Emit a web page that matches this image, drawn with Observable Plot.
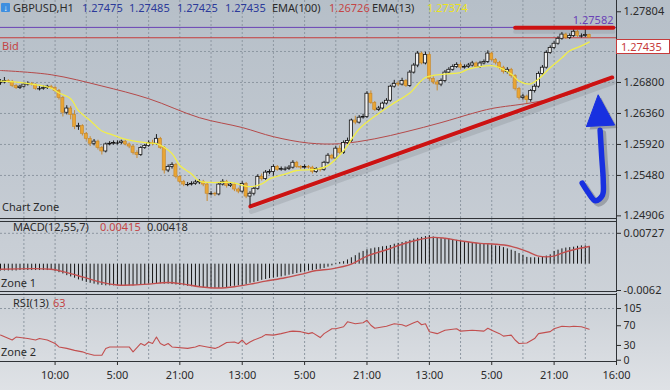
<!DOCTYPE html>
<html><head><meta charset="utf-8">
<script src="https://cdn.jsdelivr.net/npm/d3@7"></script>
<script src="https://cdn.jsdelivr.net/npm/@observablehq/plot@0.6"></script>
<style>
body{margin:0;}
#wrap{position:relative;width:670px;height:390px;overflow:hidden;
 background:linear-gradient(180deg,#b6bfc8 0%,#c2c9d1 45%,#ced3d9 80%,#dfe2e6 100%);
 font-family:"Noto Sans",sans-serif;}
.pl{position:absolute;left:0;}
.t{position:absolute;font-size:11px;line-height:12px;white-space:nowrap;color:#2b2b2b;}
.hl{position:absolute;left:0;width:616px;height:1px;background:#2f3236;}
</style></head><body><div id="wrap"></div>
<script>
// ---------- DATA ----------
const symbol = "GBPUSD,H1";
const lastOHLC = ["1.27475","1.27485","1.27425","1.27435"];
const ema100Last = "1.26726", ema13Last = "1.27374";
const bid = 1.27435, highMark = 1.27582;
const timeLabels = ["10:00","5:00","21:00","13:00","5:00","21:00","13:00","5:00","21:00","16:00"];
const timeIdx = [14,30,46,62,78,94,110,126,142,158];
const gridIdx = [6,14,22,30,38,46,54,62,70,78,86,94,102,110,118,126,134,142,150];
const mainTicks = [1.27804,1.2724,1.268,1.2636,1.2592,1.2548,1.24906];
const mainHidden = [1.2724]; // label covered by the bid price box
const mainGrid = [1.2724,1.268,1.2636,1.2592,1.2548];

const open = [1.2679,1.2680,1.2682,1.2681,1.2675,1.2672,1.2674,1.2677,1.2678,1.2677,
 1.2671,1.2671,1.2672,1.2674,1.2672,1.2668,1.2658,1.2637,1.2643,1.2634,
 1.2617,1.2618,1.2607,1.2600,1.2593,1.2596,1.2587,1.2582,1.2592,1.2593,
 1.2594,1.2594,1.2596,1.2592,1.2589,1.2580,1.2577,1.2587,1.2590,1.2594,
 1.2593,1.2600,1.2587,1.2555,1.2560,1.2563,1.2546,1.2539,1.2535,1.2535,
 1.2536,1.2538,1.2539,1.2535,1.2522,1.2522,1.2521,1.2535,1.2539,1.2533,
 1.2535,1.2528,1.2525,1.2536,1.2518,1.2522,1.2529,1.2546,1.2543,1.2552,
 1.2553,1.2560,1.2556,1.2557,1.2557,1.2559,1.2566,1.2560,1.2559,1.2560,
 1.2559,1.2553,1.2557,1.2556,1.2566,1.2576,1.2572,1.2586,1.2580,1.2594,
 1.2597,1.2626,1.2623,1.2630,1.2631,1.2664,1.2651,1.2641,1.2643,1.2650,
 1.2654,1.2674,1.2678,1.2677,1.2682,1.2675,1.2694,1.2704,1.2721,1.2707,
 1.2719,1.2685,1.2680,1.2677,1.2682,1.2694,1.2698,1.2702,1.2705,1.2701,
 1.2702,1.2704,1.2707,1.2702,1.2707,1.2709,1.2721,1.2712,1.2708,1.2701,
 1.2695,1.2698,1.2689,1.2671,1.2658,1.2660,1.2655,1.2668,1.2674,1.2692,
 1.2701,1.2722,1.2729,1.2735,1.2742,1.2748,1.2743,1.2746,1.2752,1.2746,
 1.2746,1.27475];
const close = [1.2680,1.2682,1.2681,1.2675,1.2672,1.2674,1.2677,1.2678,1.2677,1.2671,
 1.2671,1.2672,1.2674,1.2672,1.2668,1.2658,1.2637,1.2643,1.2634,1.2617,
 1.2618,1.2607,1.2600,1.2593,1.2596,1.2587,1.2582,1.2592,1.2593,1.2594,
 1.2594,1.2596,1.2592,1.2589,1.2580,1.2577,1.2587,1.2590,1.2594,1.2593,
 1.2600,1.2587,1.2555,1.2560,1.2563,1.2546,1.2539,1.2535,1.2535,1.2536,
 1.2538,1.2539,1.2535,1.2522,1.2522,1.2521,1.2535,1.2539,1.2533,1.2535,
 1.2528,1.2525,1.2536,1.2518,1.2522,1.2529,1.2546,1.2543,1.2552,1.2553,
 1.2560,1.2556,1.2557,1.2557,1.2559,1.2566,1.2560,1.2559,1.2560,1.2559,
 1.2553,1.2557,1.2556,1.2566,1.2576,1.2572,1.2586,1.2580,1.2594,1.2597,
 1.2626,1.2623,1.2630,1.2631,1.2664,1.2651,1.2641,1.2643,1.2650,1.2654,
 1.2674,1.2678,1.2677,1.2682,1.2675,1.2694,1.2704,1.2721,1.2707,1.2719,
 1.2685,1.2680,1.2677,1.2682,1.2694,1.2698,1.2702,1.2705,1.2701,1.2702,
 1.2704,1.2707,1.2702,1.2707,1.2709,1.2721,1.2712,1.2708,1.2701,1.2695,
 1.2698,1.2689,1.2671,1.2658,1.2660,1.2655,1.2668,1.2674,1.2692,1.2701,
 1.2722,1.2729,1.2735,1.2742,1.2748,1.2743,1.2746,1.2752,1.2746,1.2746,
 1.27475,1.27435];
const high = [1.2684,1.2687,1.2684,1.2683,1.2677,1.2676,1.2679,1.2681,1.2680,1.2678,
 1.2674,1.2675,1.2676,1.2676,1.2674,1.2670,1.2660,1.2647,1.2646,1.2640,
 1.2622,1.2620,1.2609,1.2603,1.2599,1.2598,1.2589,1.2594,1.2596,1.2597,
 1.2597,1.2598,1.2598,1.2594,1.2591,1.2583,1.2589,1.2592,1.2597,1.2598,
 1.2606,1.2602,1.2589,1.2563,1.2566,1.2565,1.2548,1.2541,1.2538,1.2539,
 1.2541,1.2542,1.2541,1.2537,1.2525,1.2524,1.2538,1.2542,1.2541,1.2538,
 1.2537,1.2530,1.2539,1.2538,1.2525,1.2531,1.2549,1.2550,1.2555,1.2556,
 1.2563,1.2562,1.2560,1.2560,1.2562,1.2569,1.2568,1.2562,1.2563,1.2562,
 1.2561,1.2559,1.2559,1.2568,1.2579,1.2578,1.2589,1.2590,1.2597,1.2601,
 1.2628,1.2632,1.2633,1.2635,1.2667,1.2668,1.2653,1.2646,1.2652,1.2657,
 1.2676,1.2683,1.2681,1.2686,1.2684,1.2697,1.2707,1.2724,1.2723,1.2723,
 1.2722,1.2688,1.2683,1.2685,1.2697,1.2701,1.2705,1.2708,1.2708,1.2705,
 1.2707,1.2710,1.2709,1.2710,1.2712,1.2725,1.2723,1.2714,1.2710,1.2703,
 1.2701,1.2700,1.2691,1.2673,1.2663,1.2662,1.2670,1.2677,1.2695,1.2704,
 1.2725,1.2732,1.2738,1.2745,1.2751,1.2750,1.2749,1.2755,1.2754,1.2749,
 1.27582,1.27485];
const low = [1.2676,1.2678,1.2679,1.2673,1.2670,1.2670,1.2672,1.2675,1.2675,1.2669,
 1.2668,1.2669,1.2670,1.2670,1.2666,1.2655,1.2631,1.2634,1.2627,1.2613,
 1.2612,1.2604,1.2597,1.2589,1.2590,1.2584,1.2577,1.2580,1.2590,1.2591,
 1.2591,1.2592,1.2590,1.2586,1.2577,1.2572,1.2575,1.2585,1.2588,1.2590,
 1.2591,1.2585,1.2550,1.2552,1.2557,1.2543,1.2536,1.2532,1.2532,1.2533,
 1.2534,1.2535,1.2532,1.2511,1.2519,1.2518,1.2519,1.2533,1.2530,1.2531,
 1.2525,1.2522,1.2523,1.2515,1.2505,1.2519,1.2527,1.2540,1.2541,1.2549,
 1.2547,1.2554,1.2554,1.2554,1.2555,1.2557,1.2558,1.2556,1.2557,1.2557,
 1.2550,1.2551,1.2553,1.2554,1.2564,1.2570,1.2570,1.2578,1.2578,1.2592,
 1.2595,1.2620,1.2621,1.2628,1.2629,1.2649,1.2639,1.2639,1.2641,1.2648,
 1.2652,1.2672,1.2674,1.2675,1.2673,1.2673,1.2692,1.2701,1.2705,1.2705,
 1.2682,1.2677,1.2668,1.2674,1.2680,1.2692,1.2696,1.2700,1.2698,1.2699,
 1.2700,1.2702,1.2700,1.2700,1.2705,1.2707,1.2710,1.2705,1.2698,1.2692,
 1.2692,1.2686,1.2668,1.2655,1.2655,1.2650,1.2652,1.2665,1.2672,1.2690,
 1.2699,1.2720,1.2727,1.2733,1.2740,1.2741,1.2741,1.2744,1.2744,1.2743,
 1.2744,1.27425];

const ema13Idx = [0,5,13,15,18,20,23,26,28,31,34,38,40,44,46,49,51,54,59,64,67,69,73,76,81,84,88,92,97,101,105,109,114,118,120,126,128,131,133,136,138,141,144,146,149,151];
const ema13Val = [1.2682,1.2680,1.2672,1.2665,1.2657,1.2640,1.2626,1.2611,1.2607,1.2601,1.2597,1.2594,1.2593,1.2579,1.2562,1.2550,1.2540,1.2538,1.2538,1.2532,1.2536,1.2543,1.2550,1.2555,1.2557,1.2562,1.2583,1.2614,1.2636,1.2651,1.2665,1.2687,1.2692,1.2694,1.2699,1.2704,1.2701,1.2692,1.2682,1.2678,1.2685,1.2701,1.2715,1.2725,1.2732,1.27374];
const ema100Idx = [0,13,26,38,51,62,70,79,87,96,104,113,121,126,136,144,151];
const ema100Val = [1.2697,1.2691,1.2675,1.2657,1.2630,1.2616,1.2603,1.2594,1.2593,1.2600,1.2610,1.2623,1.2636,1.2643,1.2651,1.2660,1.26726];

// annotations (bar index, price)
const supportIdx = [64.1,156.9], supportVal = [1.25039,1.26871];
const resistIdx = [132,157.2], resistVal = [1.27578,1.27578];
const arrowIdx = [149.2,150.6,152.6,154.4,154.6,154.2,153.8];
const arrowVal = [1.2537,1.2525,1.2512,1.2520,1.2540,1.2575,1.2612];
const headIdx = [150.3,153.3,157.5,150.3];
const headVal = [1.26175,1.26625,1.26195,1.26175];

// MACD(12,55,7)
const macdHist = [-0.0016,-0.0016,-0.0016,-0.0016,-0.0016,-0.0015,-0.0015,-0.0015,-0.0015,-0.0015,
 -0.0015,-0.0015,-0.0015,-0.0015,-0.0017,-0.0020,-0.0023,-0.0027,-0.0030,-0.0033,
 -0.0037,-0.0040,-0.0043,-0.0045,-0.0047,-0.0049,-0.0050,-0.0051,-0.0051,-0.0051,
 -0.0051,-0.0051,-0.0051,-0.0051,-0.0051,-0.0050,-0.0049,-0.0048,-0.0047,-0.0046,
 -0.0046,-0.0046,-0.0047,-0.0047,-0.0048,-0.0049,-0.0050,-0.0051,-0.0052,-0.0053,
 -0.0054,-0.0055,-0.0056,-0.0057,-0.0057,-0.0057,-0.0057,-0.0056,-0.0055,-0.0053,
 -0.0052,-0.0051,-0.0050,-0.0048,-0.0045,-0.0043,-0.0041,-0.0038,-0.0036,-0.0034,
 -0.0033,-0.0031,-0.0030,-0.0028,-0.0026,-0.0024,-0.0022,-0.0020,-0.0018,-0.0016,
 -0.0015,-0.0013,-0.0012,-0.0010,-0.0007,-0.0004,0.0002,0.0004,0.0006,0.0010,
 0.0015,0.0020,0.0026,0.0030,0.0034,0.0036,0.0038,0.0039,0.0041,0.0042,
 0.0044,0.0047,0.0049,0.0051,0.0053,0.0056,0.0059,0.0061,0.0063,0.0065,
 0.0067,0.0064,0.0061,0.0060,0.0060,0.0059,0.0058,0.0056,0.0054,0.0053,
 0.0051,0.0050,0.0049,0.0048,0.0047,0.0046,0.0045,0.0043,0.0042,0.0039,
 0.0036,0.0033,0.0030,0.0025,0.0021,0.0016,0.0015,0.0015,0.0015,0.0016,
 0.0019,0.0022,0.0030,0.0033,0.0036,0.0038,0.0039,0.0040,0.0042,0.0043,
 0.0043,0.00418];
const signalIdx = [0,13,17,21,26,30,34,38,43,47,51,56,60,64,68,73,77,81,85,90,94,99,103,107,111,114,118,123,127,131,135,138,142,144,147,151];
const signalVal = [-0.0012,-0.0012,-0.0020,-0.0030,-0.0043,-0.0049,-0.0049,-0.0047,-0.0043,-0.0047,-0.0053,-0.0056,-0.0053,-0.0047,-0.0040,-0.0032,-0.0024,-0.0015,-0.0011,0.0000,0.0019,0.0034,0.0047,0.0057,0.0063,0.0061,0.0055,0.0049,0.0047,0.0042,0.0030,0.0019,0.0019,0.0026,0.0034,0.00415];
const macdTicks = [0.00727,-0.0062];
const macdTickText = ["0.00727","-0.0062"];

// RSI(13)
const rsiIdx = [0,3,4,7,9,10,12,14,15,17,19,21,22,24,26,27,28,31,33,34,36,37,38,39,40,41,42,43,44,48,50,51,53,55,56,58,60,61,62,63,64,65,67,68,70,72,74,75,77,79,80,82,83,85,86,88,89,91,93,94,95,96,99,101,103,104,106,107,108,109,110,112,114,117,118,121,124,125,126,128,129,131,132,133,135,137,138,141,142,144,146,147,149,151];
const rsiVal = [51,41,47,44,41,44,41,34,27,24,20,17,14,10,10,24,27,27,27,17,34,30,37,34,47,34,30,34,27,24,27,30,27,24,27,36,37,34,41,32,37,41,47,52,51,54,58,59,58,54,56,46,54,64,64,68,78,74,76,81,71,65,69,74,72,69,76,79,72,74,58,54,61,64,59,61,59,65,61,54,49,51,41,34,35,44,54,58,64,69,68,69,68,63];
const rsiTicks = [105,70,30,0];

// ---------- BUILD ----------
const candles = close.map((c,k)=>({i:k,o:open[k],h:high[k],l:low[k],c}));
const up = candles.filter(d=>d.c>d.o), dn = candles.filter(d=>d.c<d.o), dj = candles.filter(d=>d.c===d.o);
const zip = (a,b,kx,ky)=>a.map((v,k)=>({[kx]:v,[ky]:b[k]}));
const ema13 = zip(ema13Idx,ema13Val,"i","v"), ema100 = zip(ema100Idx,ema100Val,"i","v");
const support = zip(supportIdx,supportVal,"i","p"), resist = zip(resistIdx,resistVal,"i","p");
const arrow = zip(arrowIdx,arrowVal,"i","p"), head = zip(headIdx,headVal,"i","p");
const hist = macdHist.map((v,k)=>({i:k,v}));
const signal = zip(signalIdx,signalVal,"i","v");
const rsi = zip(rsiIdx,rsiVal,"i","v");

const FONT = "'Noto Sans', sans-serif";
const common = {width:670, marginLeft:0, marginRight:54,
  x:{domain:[0,158], axis:null},
  style:{background:"transparent", fontFamily:FONT, fontSize:"11px", color:"#2b2b2b", overflow:"visible"}};
const GRID = {stroke:"#8d97a1", strokeDasharray:"2,2", strokeOpacity:1};

const wrap = document.getElementById("wrap");
function place(el, top){ el.classList.add("pl"); el.style.top = top+"px"; wrap.appendChild(el); }

const main = Plot.plot({...common, height:220, marginTop:0, marginBottom:0,
  y:{domain:[1.2484,1.27964], axis:null},
  marks:[
    Plot.ruleX(gridIdx, GRID),
    Plot.ruleY(mainGrid, GRID),
    Plot.ruleY([highMark], {stroke:"#6a42b6"}),
    Plot.ruleY([bid], {stroke:"#c63b3b"}),
    Plot.text([highMark], {x:158, y:d=>d, text:d=>d.toFixed(5), textAnchor:"end", dx:-3, dy:-7, fill:"#6a42b6", fontSize:11}),
    Plot.line(ema100, {x:"i", y:"v", stroke:"#b54a4a", strokeWidth:1, curve:"catmull-rom"}),
    Plot.line(support, {x:"i", y:"p", stroke:"#5f656c", strokeOpacity:0.18, strokeWidth:5, dx:1, dy:5}),
    Plot.line(support, {x:"i", y:"p", stroke:"#cc1212", strokeWidth:4}),
    Plot.ruleX(dn, {x:"i", y1:"l", y2:"h", stroke:"#c98a2e"}),
    Plot.ruleX([...up, ...dj], {x:"i", y1:"l", y2:"h", stroke:"#1c1c1c"}),
    Plot.rect(dn, {x1:d=>d.i-0.4, x2:d=>d.i+0.4, y1:"o", y2:"c", fill:"#e9a534", stroke:"#c5862a", strokeWidth:0.6}),
    Plot.rect(up, {x1:d=>d.i-0.4, x2:d=>d.i+0.4, y1:"o", y2:"c", fill:"#f0f0f0", stroke:"#151515", strokeWidth:0.8}),
    Plot.ruleY(dj, {y:"c", x1:d=>d.i-0.5, x2:d=>d.i+0.5, stroke:"#111"}),
    Plot.line(ema13, {x:"i", y:"v", stroke:"#f2ee48", strokeWidth:1.3, curve:"catmull-rom"}),
    Plot.line(resist, {x:"i", y:"p", stroke:"#5f656c", strokeOpacity:0.15, strokeWidth:4, dy:4}),
    Plot.line(resist, {x:"i", y:"p", stroke:"#cc1212", strokeWidth:4}),
    Plot.line(arrow, {x:"i", y:"p", stroke:"#3a3f46", strokeOpacity:0.3, strokeWidth:6, curve:"catmull-rom", dx:3, dy:3, strokeLinecap:"round"}),
    Plot.line(head, {x:"i", y:"p", fill:"#3a3f46", fillOpacity:0.3, stroke:"none", dx:3, dy:3}),
    Plot.line(arrow, {x:"i", y:"p", stroke:"#1830e0", strokeWidth:5.5, curve:"catmull-rom", strokeLinecap:"round"}),
    Plot.line(head, {x:"i", y:"p", fill:"#1830e0", stroke:"#1830e0", strokeWidth:1}),
    Plot.ruleX([158], {stroke:"#2f3236"}),
    Plot.axisY({ticks:mainTicks, anchor:"right", tickSize:4, tickPadding:3,
      tickFormat:d=>mainHidden.includes(d) ? "" : d.toFixed(5), label:null})
  ]});
place(main, 0);

const macd = Plot.plot({...common, height:73, marginTop:0, marginBottom:0,
  y:{domain:[-0.00667,0.01052], axis:null},
  marks:[
    Plot.ruleX(gridIdx, GRID),
    Plot.ruleY([macdTicks[0]], GRID),
    Plot.ruleX(hist, {x:"i", y1:0, y2:"v", stroke:"#151515", strokeWidth:1}),
    Plot.line(signal, {x:"i", y:"v", stroke:"#c24f4f", strokeWidth:1.4, curve:"catmull-rom"}),
    Plot.ruleX([158], {stroke:"#2f3236"}),
    Plot.axisY({ticks:macdTicks, anchor:"right", tickSize:4, tickPadding:3, tickFormat:d=>macdTickText[macdTicks.indexOf(d)], label:null})
  ]});
place(macd, 219);

const labelMap = new Map(timeIdx.map((d,k)=>[d,timeLabels[k]]));
const rsiPlot = Plot.plot({...common, height:97, marginTop:0, marginBottom:29,
  y:{domain:[-2.6,135.5], axis:null},
  marks:[
    Plot.ruleX(gridIdx, GRID),
    Plot.ruleY([rsiTicks[0]], GRID),
    Plot.line(rsi, {x:"i", y:"v", stroke:"#c24f4f", strokeWidth:1.1}),
    Plot.ruleX([158], {stroke:"#2f3236"}),
    Plot.axisY({ticks:rsiTicks, anchor:"right", tickSize:4, tickPadding:3, tickFormat:d=>String(d), label:null, fontSize:10.5}),
    Plot.axisX({ticks:timeIdx, anchor:"bottom", tickSize:4, tickPadding:6, tickFormat:d=>labelMap.get(d), label:null})
  ]});
place(rsiPlot, 293);

// panel borders
[218,221,291,294,361].forEach(y=>{const d=document.createElement("div");d.className="hl";d.style.top=y+"px";wrap.appendChild(d);});

// texts
function txt(s, left, top, color, extra){const d=document.createElement("div");d.className="t";d.textContent=s;d.style.left=left+"px";d.style.top=top+"px";if(color)d.style.color=color;if(extra)Object.assign(d.style,extra);wrap.appendChild(d);return d;}
const icon=document.createElement("div");
Object.assign(icon.style,{position:"absolute",left:"1px",top:"3px",width:"9px",height:"9px",background:"#3d8fe0",borderRadius:"1px",color:"#fff",fontSize:"8px",lineHeight:"9px",textAlign:"center",fontWeight:"bold"});
icon.textContent="↓"; wrap.appendChild(icon);
txt(symbol, 13, 2, "#2b2b2b");
[82,129,177,225].forEach((x,k)=>txt(lastOHLC[k], x, 2, "#2c3a9a"));
txt("EMA(100)", 272, 2, "#2b2b2b");
txt(ema100Last, 329, 2, "#c44646");
txt("EMA(13)", 372, 2, "#2b2b2b");
txt(ema13Last, 427, 2, "#ece41c");
txt("Bid", 2, 40, "#c44646");
txt("Chart Zone", 2, 201, "#2b2b2b");
txt("MACD(12,55,7)", 13, 221, "#2b2b2b");
txt(String(signalVal[signalVal.length-1]), 100, 221, "#c44646");
txt(String(macdHist[macdHist.length-1]), 147, 221, "#2b2b2b");
txt("Zone 1", 1, 277, "#2b2b2b");
txt("RSI(13)", 13, 297, "#2b2b2b");
txt(String(rsiVal[rsiVal.length-1]), 53, 297, "#c44646");
txt("Zone 2", 1, 346, "#2b2b2b");

// bid price box on the right axis
const yb = main.scale("y").apply(bid);
txt(bid.toFixed(5), 616, Math.round(yb)+2, "#c63b3b",
  {width:"48px",height:"13px",background:"#fff",border:"1px solid #c63b3b",paddingLeft:"4px",lineHeight:"13px"});
</script></body></html>
